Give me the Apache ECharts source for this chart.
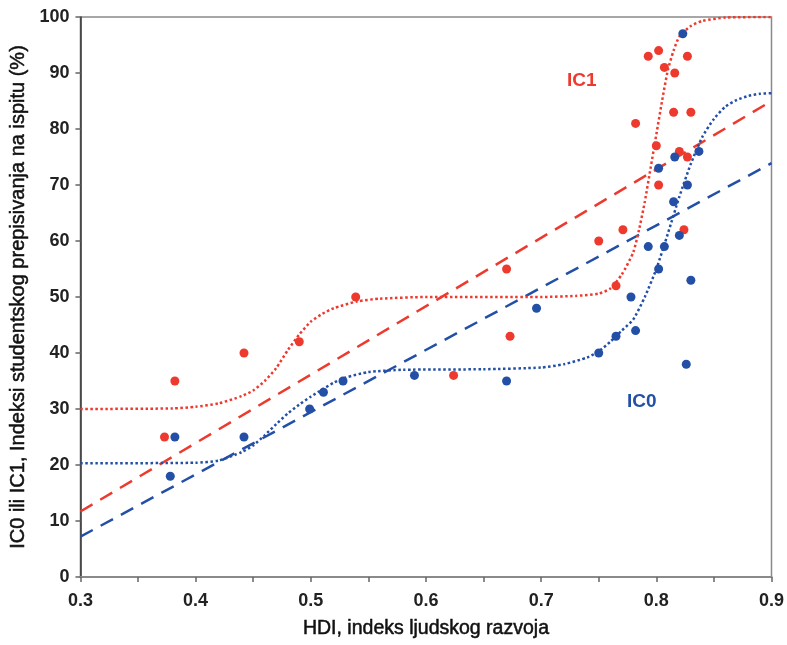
<!DOCTYPE html>
<html>
<head>
<meta charset="utf-8">
<script src="https://cdn.jsdelivr.net/npm/echarts@6/dist/echarts.min.js"></script>
<style>
html,body{margin:0;padding:0;background:#fff;}
#chart{width:787px;height:645px;}
</style>
</head>
<body>
<div id="chart"></div>
<script>
// Observed points: [HDI, index %]
const ic1Points = [
  [0.373,25],[0.382,35],[0.442,40],[0.490,42],[0.539,50],[0.624,36],
  [0.670,55],[0.673,43],[0.750,60],[0.765,52],[0.771,62],[0.824,62],
  [0.802,70],[0.800,77],[0.820,76],[0.827,75],[0.782,81],[0.815,83],
  [0.830,83],[0.793,93],[0.802,94],[0.807,91],[0.816,90],[0.827,93]
];
const ic0Points = [
  [0.378,18],[0.382,25],[0.442,25],[0.499,30],[0.511,33],[0.528,35],
  [0.590,36],[0.670,35],[0.696,48],[0.750,40],[0.765,43],[0.782,44],
  [0.778,50],[0.826,38],[0.793,59],[0.807,59],[0.802,55],[0.820,61],
  [0.830,53],[0.815,67],[0.827,70],[0.802,73],[0.816,75],[0.837,76],
  [0.823,97]
];
// Linear trends (read at both ends of the axis)
const trendX = [0.3, 0.9];
const ic1Trend = [11.7, 85.0];
const ic0Trend = [7.2, 73.9];
// Fitted step curves
const ic1CurveX = [0.30,0.38,0.40,0.42,0.44,0.45,0.46,0.47,0.48,0.49,0.50,0.51,0.52,0.54,0.56,0.60,0.70,0.73,0.75,0.76,0.77,0.78,0.785,0.79,0.795,0.80,0.805,0.81,0.815,0.82,0.83,0.84,0.86,0.90];
const ic1CurveY = [30,30.1,30.4,31,32.3,33.3,35,37.3,40.5,43.3,45.6,47,48,49.2,49.7,50,50,50.2,50.6,51.5,54,58,62,67,73,79,85,90.5,94,96.5,98.4,99.3,99.9,100];
const ic0CurveX = [0.30,0.40,0.42,0.44,0.45,0.46,0.47,0.48,0.49,0.50,0.51,0.52,0.53,0.55,0.58,0.65,0.70,0.72,0.74,0.75,0.76,0.77,0.78,0.79,0.80,0.81,0.82,0.83,0.84,0.85,0.86,0.87,0.88,0.89,0.90];
const ic0CurveY = [20.3,20.4,20.8,22.3,23.5,25.3,27.3,29.2,30.8,32.2,33.5,34.7,35.6,36.6,37,37.1,37.4,38,39.2,40.3,42,44,46,50,55,61.3,67.9,73.8,78.6,81.8,84,85.2,85.9,86.3,86.4];
const xTicks = [0.3,0.4,0.5,0.6,0.7,0.8,0.9];
const yTicks = [0,10,20,30,40,50,60,70,80,90,100];

const RED = '#ee3a2e', BLUE = '#2350a6';
const FONT = 'Liberation Sans, Arial, sans-serif';

const zip = (xs, ys) => xs.map((x, i) => [x, ys[i]]);

const chart = echarts.init(document.getElementById('chart'));
chart.setOption({
  animation: false,
  backgroundColor: '#fff',
  grid: { left: 78, right: 15, top: 17, bottom: 68, show: true, borderColor: '#8a8a8a', borderWidth: 1.5 },
  xAxis: {
    type: 'value', min: xTicks[0], max: xTicks[xTicks.length-1], interval: 0.1,
    name: 'HDI, indeks ljudskog razvoja', nameLocation: 'middle', nameGap: 42,
    nameTextStyle: { fontFamily: FONT, fontSize: 19.5, color: '#111', textBorderColor: '#111', textBorderWidth: 0.5 },
    axisLine: { show: true, lineStyle: { color: '#8a8a8a', width: 2 } },
    axisTick: { show: true, length: 5, lineStyle: { color: '#666', width: 1.5 } },
    minorTick: { show: true, splitNumber: 2, length: 5, lineStyle: { color: '#666', width: 1.5 } },
    axisLabel: { fontFamily: FONT, fontSize: 18, fontWeight: 'bold', color: '#222', margin: 15,
      formatter: v => v.toFixed(1) },
    splitLine: { show: false }
  },
  yAxis: {
    type: 'value', min: yTicks[0], max: yTicks[yTicks.length-1], interval: 10,
    name: 'IC0 ili IC1, Indeksi studentskog prepisivanja na ispitu (%)', nameLocation: 'middle', nameGap: 51,
    nameTextStyle: { fontFamily: FONT, fontSize: 20, color: '#111', textBorderColor: '#111', textBorderWidth: 0.5 },
    axisLine: { show: true, lineStyle: { color: '#333', width: 1.5 } },
    axisTick: { show: true, length: 5, lineStyle: { color: '#666', width: 1.5 } },
    axisLabel: { fontFamily: FONT, fontSize: 18, fontWeight: 'bold', color: '#222', margin: 11 },
    splitLine: { show: false }
  },
  series: [
    { type: 'line', data: zip(trendX, ic1Trend), symbol: 'none', z: 2,
      lineStyle: { color: RED, width: 2.5, type: [14, 9] } },
    { type: 'line', data: zip(trendX, ic0Trend), symbol: 'none', z: 2,
      lineStyle: { color: BLUE, width: 2.5, type: [14, 9] } },
    { type: 'line', data: zip(ic1CurveX, ic1CurveY), symbol: 'none', smooth: 0.2, z: 2,
      lineStyle: { color: RED, width: 2.5, type: [2.5, 2.5] } },
    { type: 'line', data: zip(ic0CurveX, ic0CurveY), symbol: 'none', smooth: 0.2, z: 2,
      lineStyle: { color: BLUE, width: 2.5, type: [2.5, 2.5] } },
    { type: 'scatter', data: ic1Points, symbolSize: 9, z: 3, itemStyle: { color: RED, opacity: 1 } },
    { type: 'scatter', data: ic0Points, symbolSize: 9, z: 3, itemStyle: { color: BLUE, opacity: 1 } }
  ],
  graphic: [
    { type: 'text', left: 567, top: 71, style: { text: 'IC1', fill: RED, font: 'bold 19px ' + FONT } },
    { type: 'text', left: 627, top: 392, style: { text: 'IC0', fill: BLUE, font: 'bold 19px ' + FONT } }
  ]
});
</script>
</body>
</html>
